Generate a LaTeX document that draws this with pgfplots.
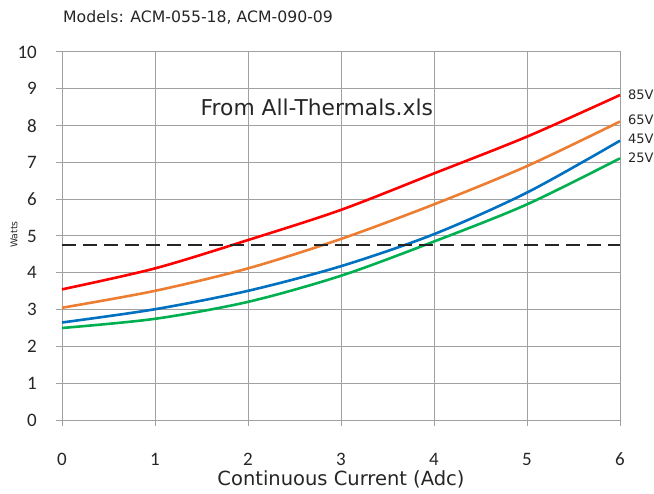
\documentclass[border=0pt]{standalone}
\usepackage{fontspec}
\setmainfont{DejaVu Sans}
\newfontfamily\carlito{Carlito}
\usepackage{pgfplots}
\pgfplotsset{compat=1.18}

\definecolor{gridgray}{HTML}{A0A0A0}
\definecolor{c85}{HTML}{FF0000}
\definecolor{c65}{HTML}{ED7D31}
\definecolor{c45}{HTML}{0070C0}
\definecolor{c25}{HTML}{00B050}
\definecolor{limitline}{HTML}{262626}

\begin{document}
\begin{tikzpicture}
\begin{axis}[
    at={(0,0)}, anchor=south west,
    scale only axis,
    width=558bp, height=368bp,
    xmin=0, xmax=6,
    ymin=0, ymax=10,
    xtick={0,1,2,3,4,5,6},
    ytick={0,1,2,3,4,5,6,7,8,9,10},
    tick pos=left,
    tick align=outside,
    major tick length=6bp,
    major tick style={gridgray, line width=1bp},
    axis line style={gridgray, line width=1bp},
    grid=major,
    grid style={gridgray, line width=1bp},
    /pgf/number format/assume math mode=true,
    tick label style={font=\carlito\fontsize{19bp}{19bp}\selectfont, text=black!85, inner sep=0pt},
    xticklabel style={anchor=base, yshift=-39bp},
    yticklabel style={anchor=east, xshift=-19bp},
    clip=false,
]

\addplot[c85, line width=2.6bp, smooth] coordinates {
    (0,3.55) (1,4.12) (2,4.89) (3,5.71) (4,6.70) (5,7.70) (6,8.83)
};
\addplot[c65, line width=2.6bp, smooth] coordinates {
    (0,3.05) (1,3.51) (2,4.12) (3,4.92) (4,5.86) (5,6.90) (6,8.11)
};
\addplot[c45, line width=2.6bp, smooth] coordinates {
    (0,2.65) (1,3.01) (2,3.51) (3,4.18) (4,5.05) (5,6.18) (6,7.59)
};
\addplot[c25, line width=2.6bp, smooth] coordinates {
    (0,2.50) (1,2.75) (2,3.21) (3,3.92) (4,4.85) (5,5.86) (6,7.11)
};
\addplot[limitline, line width=2.6bp, dash pattern=on 14bp off 7bp] coordinates {
    (0,4.75) (6,4.75)
};

\begin{scope}[every node/.style={inner sep=0pt, anchor=west, text=black!85,
    font=\fontsize{13bp}{13bp}\selectfont}]
\node at (axis cs:6,8.85) [xshift=8bp] {85V};
\node at (axis cs:6,8.17) [xshift=8bp] {65V};
\node at (axis cs:6,7.64) [xshift=8bp] {45V};
\node at (axis cs:6,7.13) [xshift=8bp] {25V};
\end{scope}

\node[inner sep=0pt, text=black!85, font=\fontsize{21.8bp}{21.8bp}\selectfont]
    at (axis cs:2.74,8.49) {From All-Thermals.xls};

\node[inner sep=0pt, anchor=base west, text=black!85, font=\fontsize{15.7bp}{15.7bp}\selectfont]
    at (rel axis cs:0,1) [xshift=1bp, yshift=29bp] {Models: ACM-055-18, ACM-090-09};

\node[inner sep=0pt, anchor=base, text=black!85, font=\fontsize{19.5bp}{19.5bp}\selectfont]
    at (axis cs:3,0) [yshift=-65bp] {Continuous Current (Adc)};

\node[shift={(-48bp,0bp)}, inner sep=0pt, rotate=90, text=black!85, font=\fontsize{9.3bp}{9.3bp}\selectfont]
    at (axis cs:0,5.04) {Watts};
\end{axis}
\pgfresetboundingbox
\path[use as bounding box] (-62bp,-74bp) rectangle (592bp,420bp);
\end{tikzpicture}
\end{document}
